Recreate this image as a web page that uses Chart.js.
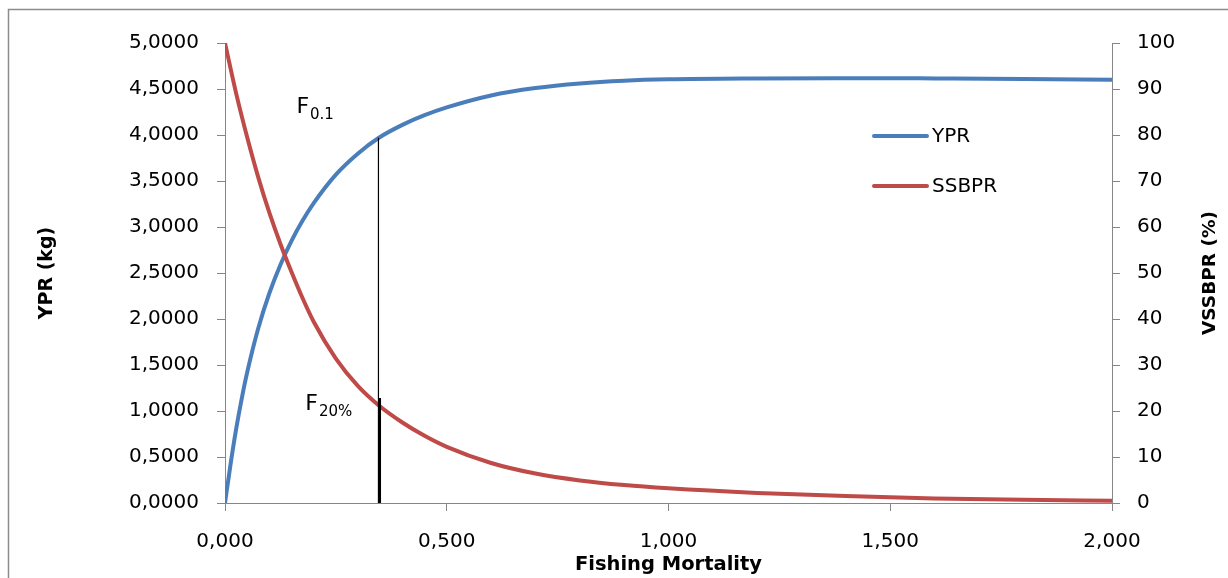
<!DOCTYPE html>
<html><head><meta charset="utf-8">
<script src="https://cdn.jsdelivr.net/npm/chart.js@4.4.1/dist/chart.umd.min.js"></script>
<style>html,body{margin:0;padding:0;background:#fff}#wrap{width:1228px;height:578px;position:relative}</style>
</head><body><div id="wrap"><canvas id="c" width="1228" height="578"></canvas></div>
<script>
// ---- data ----
const yprF   = [0, 0.0125, 0.025, 0.0375, 0.05, 0.075, 0.1, 0.125, 0.15, 0.175, 0.2, 0.25, 0.3, 0.347, 0.4, 0.45, 0.5, 0.6, 0.7, 0.8, 0.9, 1.0, 1.2, 1.4, 1.6, 1.8, 2.0];
const yprKg  = [0, 0.42, 0.80, 1.13, 1.42, 1.90, 2.28, 2.59, 2.85, 3.07, 3.26, 3.57, 3.80, 3.97, 4.11, 4.215, 4.30, 4.43, 4.51, 4.56, 4.59, 4.605, 4.615, 4.618, 4.615, 4.61, 4.60];
const ssbF   = [0, 0.025, 0.05, 0.075, 0.1, 0.125, 0.15, 0.175, 0.2, 0.25, 0.3, 0.347, 0.4, 0.45, 0.5, 0.6, 0.7, 0.8, 0.9, 1.0, 1.2, 1.4, 1.6, 1.8, 2.0];
const ssbPct = [100, 89.1, 79.5, 70.8, 63.1, 56.3, 50.2, 44.5, 39.4, 31.4, 25.4, 21.2, 17.5, 14.6, 12.2, 8.7, 6.4, 4.9, 3.9, 3.2, 2.2, 1.5, 1.0, 0.7, 0.5];
const f01F   = [0.346, 0.346];
const f01Kg  = [3.97, 0];
const f20F   = [0.349, 0.349];
const f20Pct = [22.8, 0];
const seriesNames = ['YPR', 'SSBPR'];
const xTitle = 'Fishing Mortality';
const yLeftTitle = 'YPR (kg)';
const yRightTitle = 'VSSBPR (%)';

const pts = (xs, ys) => xs.map((x, i) => ({x: x, y: ys[i]}));
const FONT = 'DejaVu Sans';
const AXIS = '#868686';

Chart.defaults.font.family = FONT;
Chart.defaults.color = '#000';

const framePlugin = {
  id: 'frame',
  beforeDraw(chart) {
    const c = chart.ctx;
    c.save();
    c.fillStyle = '#fff';
    c.fillRect(0, 0, chart.width, chart.height);
    c.strokeStyle = '#8c8c8c';
    c.lineWidth = 1.5;
    c.strokeRect(8.5, 9.5, 1300, 700);
    c.restore();
  }
};

const textPlugin = {
  id: 'texts',
  afterDraw(chart) {
    const c = chart.ctx;
    const xs = chart.scales.x, yl = chart.scales.y, yr = chart.scales.y2;
    c.save();
    c.fillStyle = '#000';
    c.textBaseline = 'alphabetic';
    const drawSub = (x, y, main, sub) => {
      c.font = '22px ' + FONT;
      c.textAlign = 'left';
      c.fillText(main, x, y);
      const w = c.measureText(main).width;
      c.font = '15px ' + FONT;
      c.fillText(sub, x + w + 1, y + 6);
    };
    drawSub(xs.getPixelForValue(0.161), yl.getPixelForValue(4.24), 'F', '0.1');
    drawSub(xs.getPixelForValue(0.181), yl.getPixelForValue(1.01), 'F', '20%');
    // legend
    const ds = chart.data.datasets;
    const legendRows = [[0, 136], [1, 186]];
    legendRows.forEach(([i, y]) => {
      c.strokeStyle = ds[i].borderColor;
      c.lineWidth = 4;
      c.lineCap = 'round';
      c.beginPath(); c.moveTo(874, y); c.lineTo(927, y); c.stroke();
      c.font = '20px ' + FONT;
      c.textAlign = 'left';
      c.textBaseline = 'middle';
      c.fillText(ds[i].label, 932, y + 1);
    });
    // right axis title (reads bottom to top)
    c.translate(1210, (yr.top + yr.bottom) / 2);
    c.rotate(-Math.PI / 2);
    c.font = 'bold 18.5px ' + FONT;
    c.textAlign = 'center';
    c.textBaseline = 'middle';
    c.fillText(yRightTitle, 0, 0);
    c.restore();
  }
};

new Chart(document.getElementById('c'), {
  type: 'scatter',
  data: {
    datasets: [
      {label: seriesNames[0], data: pts(yprF, yprKg), yAxisID: 'y', showLine: true, borderColor: '#4a7ebb', backgroundColor: '#4a7ebb', borderWidth: 4, pointRadius: 0, cubicInterpolationMode: 'monotone', order: 2},
      {label: seriesNames[1], data: pts(ssbF, ssbPct), yAxisID: 'y2', showLine: true, borderColor: '#be4b48', backgroundColor: '#be4b48', borderWidth: 4, pointRadius: 0, cubicInterpolationMode: 'monotone', order: 1},
      {label: 'F0.1', data: pts(f01F, f01Kg), yAxisID: 'y', showLine: true, borderColor: '#000', borderWidth: 1.2, pointRadius: 0, order: 0},
      {label: 'F20%', data: pts(f20F, f20Pct), yAxisID: 'y2', showLine: true, borderColor: '#000', borderWidth: 2.5, pointRadius: 0, order: 0}
    ]
  },
  options: {
    responsive: false,
    animation: false,
    devicePixelRatio: 1,
    layout: {padding: {top: 43, left: 0, right: 0, bottom: 0}},
    plugins: {legend: {display: false}, tooltip: {enabled: false}},
    scales: {
      x: {
        type: 'linear', position: 'bottom', min: 0, max: 2,
        afterFit(s) { s.height = 75; },
        ticks: {stepSize: 0.5, padding: 19, font: {size: 20}, color: '#000', callback: v => v.toFixed(3).replace('.', ',')},
        grid: {drawOnChartArea: false, drawTicks: true, tickLength: 8, tickColor: AXIS},
        border: {color: AXIS, width: 1},
        title: {display: true, text: xTitle, font: {size: 19.5, weight: 'bold'}, color: '#000', padding: {top: 0, bottom: 1}}
      },
      y: {
        type: 'linear', position: 'left', min: 0, max: 5,
        afterFit(s) { s.width = 225; },
        ticks: {stepSize: 0.5, padding: 18, font: {size: 20}, color: '#000', callback: v => v.toFixed(4).replace('.', ',')},
        grid: {drawOnChartArea: false, drawTicks: true, tickLength: 8, tickColor: AXIS},
        border: {color: AXIS, width: 1},
        title: {display: true, text: yLeftTitle, font: {size: 19, weight: 'bold'}, color: '#000', padding: {top: 36, bottom: 0}}
      },
      y2: {
        type: 'linear', position: 'right', min: 0, max: 100,
        afterFit(s) { s.width = 116; },
        ticks: {stepSize: 10, padding: 17, font: {size: 20}, color: '#000'},
        grid: {drawOnChartArea: false, drawTicks: true, tickLength: 8, tickColor: AXIS},
        border: {color: AXIS, width: 1}
      }
    }
  },
  plugins: [framePlugin, textPlugin]
});
</script>
</body></html>
